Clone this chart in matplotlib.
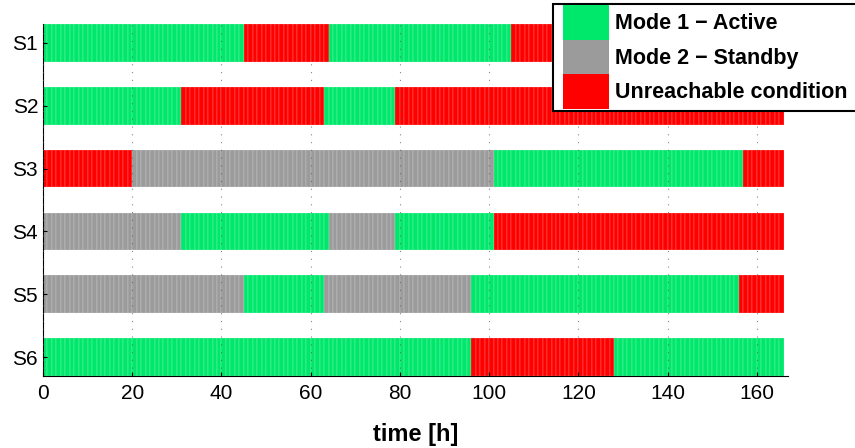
import matplotlib.pyplot as plt
from matplotlib.patches import Patch, Rectangle

plt.rcParams['font.family'] = ['Liberation Sans', 'DejaVu Sans']

# system names, top to bottom
systems = ['S1', 'S2', 'S3', 'S4', 'S5', 'S6']
n_hours = 166

# state changes per system: start hour of each segment and its mode
# 1 = active, 2 = standby, 3 = unreachable
s1_starts = [0, 45, 64, 105]
s1_modes = [1, 3, 1, 3]
s2_starts = [0, 31, 63, 79]
s2_modes = [1, 3, 1, 3]
s3_starts = [0, 20, 101, 157]
s3_modes = [3, 2, 1, 3]
s4_starts = [0, 31, 64, 79, 101]
s4_modes = [2, 1, 2, 1, 3]
s5_starts = [0, 45, 63, 96, 156]
s5_modes = [2, 1, 2, 1, 3]
s6_starts = [0, 96, 128]
s6_modes = [1, 3, 1]

starts = [s1_starts, s2_starts, s3_starts, s4_starts, s5_starts, s6_starts]
modes = [s1_modes, s2_modes, s3_modes, s4_modes, s5_modes, s6_modes]

mode_names = ['Mode 1 \u2212 Active', 'Mode 2 \u2212 Standby', 'Unreachable condition']
colors = {1: '#00e86c', 2: '#9b9b9b', 3: '#ff0000'}

fig = plt.figure(figsize=(8.55, 4.48), dpi=100)
ax = fig.add_axes([43/855, 1-376/448, 745/855, 352/448])

for i in range(len(systems)):
    # expand segments to hourly states
    hourly = []
    for h in range(n_hours):
        m = modes[i][0]
        for s, mm in zip(starts[i], modes[i]):
            if h >= s:
                m = mm
        hourly.append(m)
    ax.barh([i + 1] * n_hours, [1] * n_hours, left=list(range(n_hours)), height=0.6,
            color=[colors[m] for m in hourly], edgecolor=(1, 1, 1, 0.45), linewidth=0.3, zorder=1)

ax.set_xlim(0, 167)
ax.set_ylim(6.3, 0.7)
ax.set_yticks(range(1, 7))
ax.set_yticklabels(systems)
ax.set_xticks(range(0, 161, 20))
ax.tick_params(direction='in', labelsize=15, length=3, width=0.8)
ax.tick_params(axis='x', pad=6)
ax.xaxis.grid(True, linestyle=(0, (1, 6)), color='#555555', linewidth=0.8, alpha=0.7, zorder=3)
ax.set_axisbelow(False)
ax.spines['top'].set_visible(False)
ax.spines['right'].set_visible(False)
ax.set_xlabel('time [h]', fontsize=17, fontweight='bold', labelpad=14)

# legend frame drawn by hand so it can run off the right edge
fig.patches.append(Rectangle((553/855, 1-111/448), 320/855, 107/448, transform=fig.transFigure,
                             facecolor='white', edgecolor='black', linewidth=1.5, zorder=5))
handles = [Patch(facecolor=colors[k], edgecolor='none') for k in (1, 2, 3)]
leg = fig.legend(handles, mode_names, loc='upper left', bbox_to_anchor=(563/855, 1-5/448),
                 prop={'weight': 'bold', 'size': 15.5}, handlelength=2.15, handleheight=2.1,
                 labelspacing=0, handletextpad=0.28, borderpad=0, borderaxespad=0,
                 frameon=False)
leg.set_zorder(6)

fig.savefig('out.png', dpi=100)
